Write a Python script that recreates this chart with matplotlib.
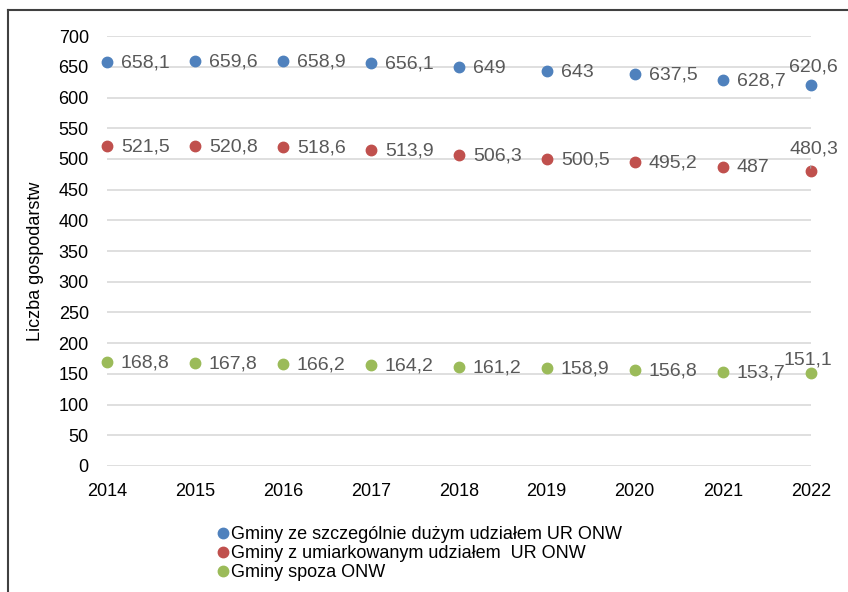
import matplotlib.pyplot as plt
from matplotlib.lines import Line2D

years = [2014, 2015, 2016, 2017, 2018, 2019, 2020, 2021, 2022]
duzy = [658.1, 659.6, 658.9, 656.1, 649, 643, 637.5, 628.7, 620.6]
umiark = [521.5, 520.8, 518.6, 513.9, 506.3, 500.5, 495.2, 487, 480.3]
spoza = [168.8, 167.8, 166.2, 164.2, 161.2, 158.9, 156.8, 153.7, 151.1]

series_names = ['Gminy ze szczególnie dużym udziałem UR ONW',
                'Gminy z umiarkowanym udziałem  UR ONW',
                'Gminy spoza ONW']
colors = ['#4f81bd', '#c0504d', '#9bbb59']

plt.rcParams['font.family'] = ['Liberation Sans', 'DejaVu Sans']

fig = plt.figure(figsize=(8.48, 5.92), dpi=100)
ax = fig.add_axes([0.126, 0.213, 0.830, 0.726])


def fmt(v):
    # format z przecinkiem dziesiętnym
    s = f'{v:.1f}'.rstrip('0').rstrip('.')
    return s.replace('.', ',')


# przesunięcia etykiety dla ostatniego punktu (w pikselach)
last_offsets = [(3, 18), (3, 22), (-3, 13)]

for vals, name, col, last in zip([duzy, umiark, spoza], series_names, colors, last_offsets):
    ax.plot(years, vals, 'o', color=col, markersize=7.5, label=name, zorder=3, clip_on=False)
    for i, (x, y) in enumerate(zip(years, vals)):
        if i < len(years) - 1:
            ax.annotate(fmt(y), (x, y), xytext=(14, -1), textcoords='offset pixels',
                        ha='left', va='center', fontsize=14, color='#595959')
        else:
            ax.annotate(fmt(y), (x, y), xytext=last, textcoords='offset pixels',
                        ha='center', va='center', fontsize=14, color='#595959')
# linia odniesienia dla 480,3
ax.annotate('', (years[-1], umiark[-1]), xytext=(years[-1], umiark[-1] + 13),
            arrowprops=dict(arrowstyle='-', color='#a6a6a6', lw=0.8))

ax.set_xlim(2014, 2022)
ax.set_ylim(0, 700)
ax.set_yticks(range(0, 701, 50))
ax.set_xticks(years)
ax.grid(axis='y', color='#d9d9d9', lw=1.2)
ax.set_axisbelow(True)
for s in ax.spines.values():
    s.set_visible(False)
ax.tick_params(axis='both', length=0, labelsize=13)
ax.tick_params(axis='y', pad=13)
ax.tick_params(axis='x', pad=12)
ax.set_ylabel('Liczba gospodarstw', fontsize=13)
ax.yaxis.set_label_coords(-0.09, 0.477)

handles = [Line2D([], [], marker='o', ls='', color=c, markersize=7.5) for c in colors]
fig.legend(handles, series_names, loc='upper left', bbox_to_anchor=(0.252, 0.111),
           frameon=False, fontsize=13, handletextpad=-0.05, labelspacing=0.1,
           handlelength=1.0, borderpad=0, borderaxespad=0)

# ramka wykresu (widoczna lewa i górna krawędź)
fig.add_artist(Line2D([8 / 848, 8 / 848], [0, 1 - 10 / 592], color='#404040', lw=1.5))
fig.add_artist(Line2D([8 / 848, 1], [1 - 10 / 592, 1 - 10 / 592], color='#404040', lw=1.5))

plt.savefig('out.png', dpi=100)
plt.close()
